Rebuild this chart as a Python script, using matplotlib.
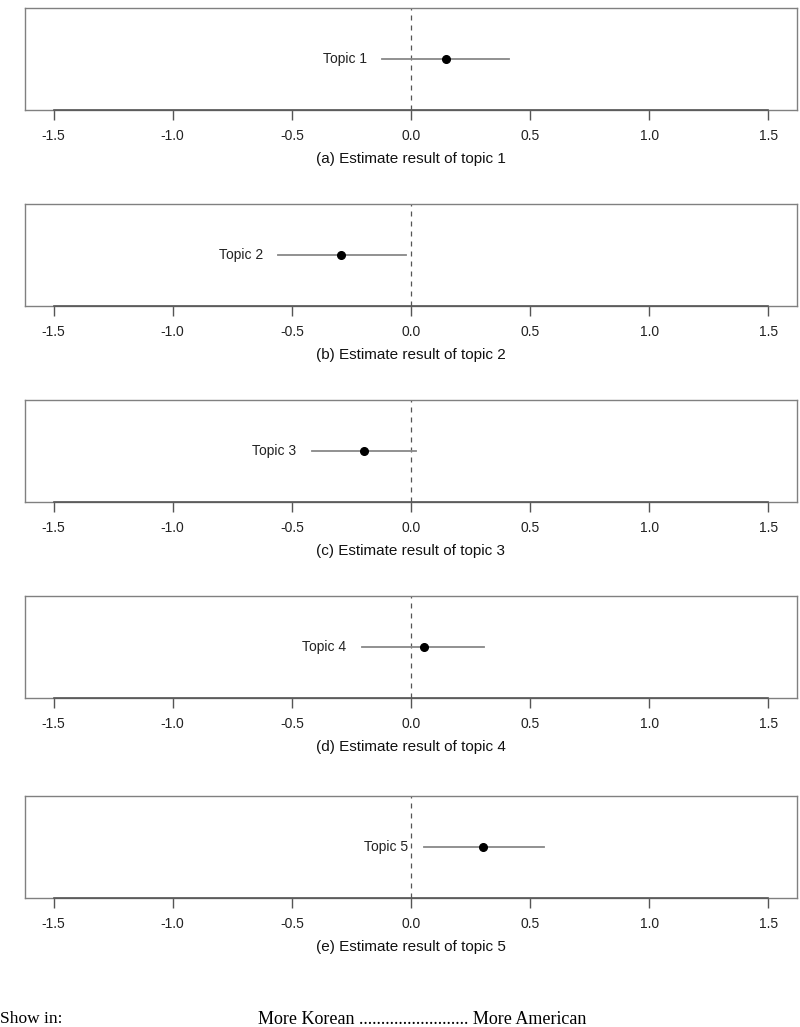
import matplotlib
matplotlib.use("Agg")
import matplotlib.pyplot as plt
import numpy as np

# estimates and 95% intervals per topic
topics = ["Topic 1", "Topic 2", "Topic 3", "Topic 4", "Topic 5"]
estimates = [0.146, -0.295, -0.199, 0.055, 0.302]
lower = [-0.121, -0.558, -0.417, -0.207, 0.054]
upper = [0.413, -0.023, 0.023, 0.308, 0.558]
captions = ["(a) Estimate result of topic 1", "(b) Estimate result of topic 2",
            "(c) Estimate result of topic 3", "(d) Estimate result of topic 4",
            "(e) Estimate result of topic 5"]
xticks = [-1.5, -1.0, -0.5, 0.0, 0.5, 1.0, 1.5]
xticklabels = ["-1.5", "-1.0", "-0.5", "0.0", "0.5", "1.0", "1.5"]

W, H = 800, 1027
fig = plt.figure(figsize=(W / 100, H / 100), dpi=100)

box_tops = [8, 204, 400, 596, 796]
box_h = 102
sans = ["Liberation Sans", "DejaVu Sans"]

for i in range(len(topics)):
    top = box_tops[i]
    ax = fig.add_axes([25 / W, 1 - (top + box_h) / H, 772 / W, box_h / H])
    ax.set_xlim(-1.62, 1.62)
    ax.set_ylim(0, 2)
    for s in ax.spines.values():
        s.set_color("#808080")
        s.set_linewidth(1.0)
    ax.set_yticks([])
    ax.set_xticks(xticks)
    ax.set_xticklabels(xticklabels, family=sans, fontsize=10, color="#222222")
    ax.tick_params(axis="x", length=7, width=1, color="#555555", pad=7)
    # axis line between first and last tick
    ax.plot([xticks[0], xticks[-1]], [0, 0], color="#555555", lw=1.2,
            clip_on=False, zorder=5)
    ax.axvline(0, color="#555555", lw=0.9, ls=(0, (4, 4)), zorder=1)
    ax.plot([lower[i], upper[i]], [1, 1], color="#888888", lw=1.3, zorder=2)
    ax.plot([estimates[i]], [1], "o", color="black", ms=5.5, zorder=3)
    ax.annotate(topics[i], xy=(lower[i], 1), xytext=(-11, 0),
                textcoords="offset points", ha="right", va="center",
                family=sans, fontsize=10, color="#222222")
    ax.text(0.5, -0.48, captions[i], transform=ax.transAxes, ha="center",
            va="center", family=sans, fontsize=11, color="#111111")

serif = ["Liberation Serif", "DejaVu Serif"]
fig.text(0 / W, 1 - 1019 / H, "Show in:", ha="left", va="center",
         family=serif, fontsize=12.5)
fig.text(258 / W, 1 - 1019 / H, "More Korean ......................... More American",
         ha="left", va="center", family=serif, fontsize=13)

fig.savefig("out.png", dpi=100)
